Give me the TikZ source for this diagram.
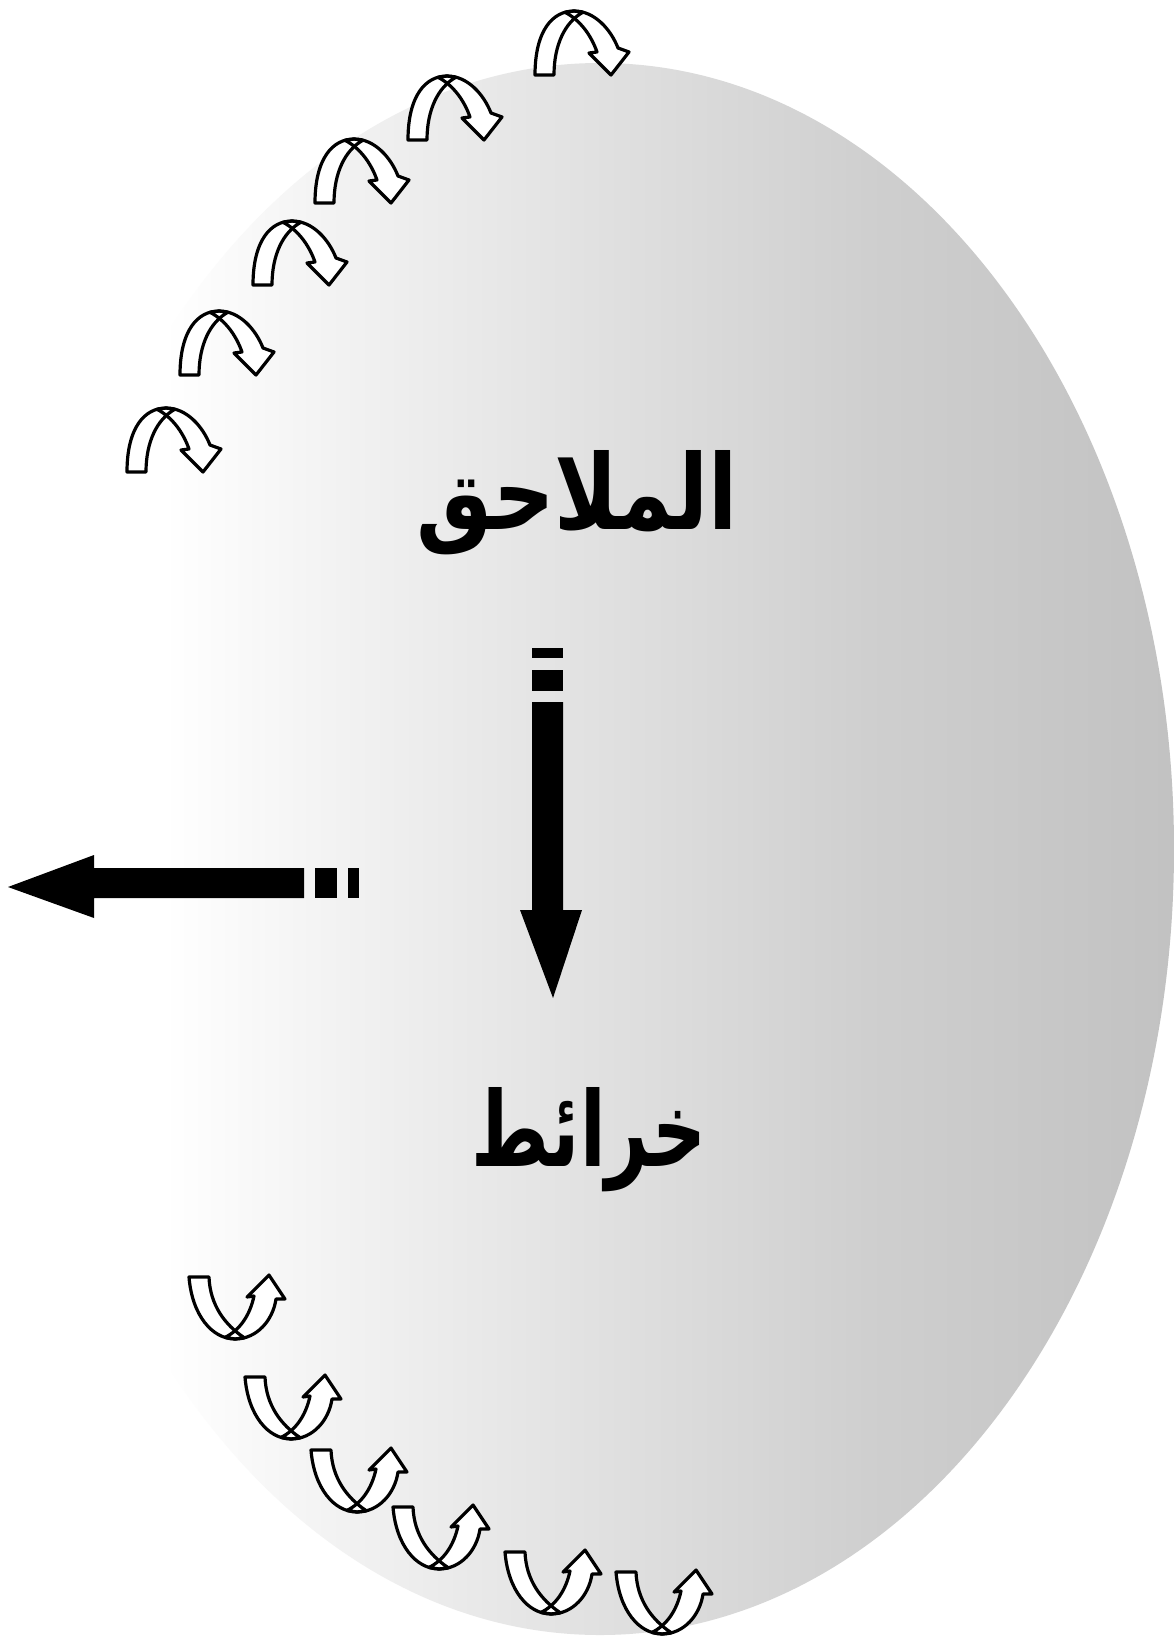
\documentclass[tikz,border=0pt]{standalone}
\usepackage{fontspec}
\newfontfamily\arabicfont[Script=Arabic]{DejaVu Sans}
\TeXXeTstate=1
\pgfdeclarehorizontalshading{fadegray}{100bp}{color(0bp)=(white); color(25bp)=(white); color(31bp)=(white); color(37bp)=(black!4); color(50bp)=(black!12); color(62bp)=(black!19); color(75bp)=(black!24); color(100bp)=(black!24)}
\begin{document}
\begin{tikzpicture}[x=0.5pt,y=-0.5pt,
  outl/.style={draw=black,line width=1.6pt,line join=round},
  ribbon/.style={fill=white},
  label/.style={font=\arabicfont\bfseries\fontsize{52}{60}\selectfont, inner sep=0pt},
  toparrow/.pic={
    \path[ribbon] (30,2.3) -- (39,1) .. controls (60,1) and (76,20) .. (83,38) -- (94,42) -- (76,65) -- (54,43) -- (62,42) .. controls (56,25) and (45,10) .. (30,2.3) -- cycle;
    \path[ribbon] (0,65) .. controls (0,20) and (18,1) .. (39,1) -- (48,2.2) .. controls (30,12) and (19,35) .. (19,65) -- cycle;
    \path[outl] (30,2.3) -- (39,1) .. controls (60,1) and (76,20) .. (83,38) -- (94,42) -- (76,65) -- (54,43) -- (62,42) .. controls (56,25) and (45,10) .. (30,2.3) -- cycle;
    \path[outl] (0,65) .. controls (0,20) and (18,1) .. (39,1) -- (48,2.2) .. controls (30,12) and (19,35) .. (19,65) -- cycle;
  },
  botarrow/.pic={
    \path[ribbon] (36,62.4) -- (46,64) .. controls (68,64) and (84,45) .. (87,24) -- (96,24) -- (80,0) -- (58,22) -- (65,21) .. controls (61,40) and (51,55) .. (36,62.4) -- cycle;
    \path[ribbon] (0,2) .. controls (3,40) and (23,64) .. (46,64) -- (55.4,62.8) .. controls (36,50) and (21,30) .. (20,2) -- cycle;
    \path[outl] (36,62.4) -- (46,64) .. controls (68,64) and (84,45) .. (87,24) -- (96,24) -- (80,0) -- (58,22) -- (65,21) .. controls (61,40) and (51,55) .. (36,62.4) -- cycle;
    \path[outl] (0,2) .. controls (3,40) and (23,64) .. (46,64) -- (55.4,62.8) .. controls (36,50) and (21,30) .. (20,2) -- cycle;
  }]
\useasboundingbox (0,0) rectangle (1175,1643);
\fill[white] (0,0) rectangle (1175,1643);
% shaded half-disc
\shade[shading=fadegray] (600,849) ellipse [x radius=574, y radius=786];
% curved arrows, top
\pic at (535,10) {toparrow};
\pic at (408,75) {toparrow};
\pic at (315,138) {toparrow};
\pic at (253,220) {toparrow};
\pic at (180,310) {toparrow};
\pic at (127,407) {toparrow};
% curved arrows, bottom
\pic at (189,1275) {botarrow};
\pic at (245,1375) {botarrow};
\pic at (311,1448) {botarrow};
\pic at (393,1505) {botarrow};
\pic at (505,1550) {botarrow};
\pic at (616,1570) {botarrow};
% labels
\node[label] (mulahiq) at (577,503) {\scalebox{0.82}[1]{\beginR الملاحق\endR}};
\node[label] (khara) at (589,1140) {\scalebox{0.72}[1]{\beginR خرائط\endR}};
% vertical arrow
\coordinate (vtail) at (547,648);
\coordinate (vtip) at (553,998);
\fill (532,648) rectangle (563,658);
\fill (532,670) rectangle (563,691);
\fill (532,702) -- (563,702) -- (563,910) -- (582,910) -- (vtip) -- (520,910) -- (532,910) -- cycle;
% horizontal arrow
\coordinate (htip) at (8,887);
\fill (htip) -- (94,855) -- (94,868) -- (304,868) -- (304,898) -- (94,898) -- (94,918) -- cycle;
\fill (315,868) rectangle (337,898);
\fill (348,868) rectangle (359,898);
\end{tikzpicture}
\end{document}
